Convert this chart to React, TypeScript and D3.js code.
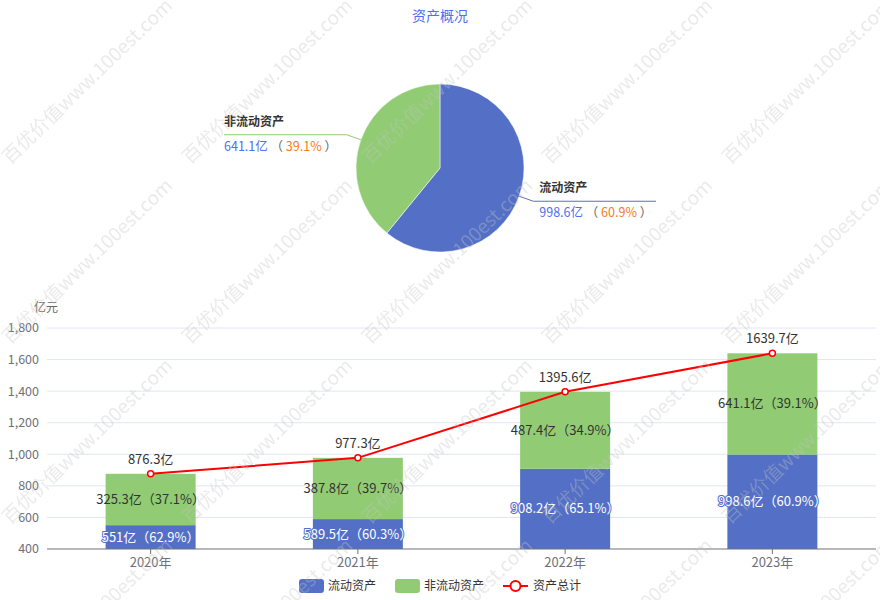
import * as d3 from "d3";

const years = ["2020年", "2021年", "2022年", "2023年"];
const currentAssets = [551, 589.5, 908.2, 998.6];
const nonCurrentAssets = [325.3, 387.8, 487.4, 641.1];
const totalAssets = [876.3, 977.3, 1395.6, 1639.7];
const currentPct = ["62.9%", "60.3%", "65.1%", "60.9%"];
const nonCurrentPct = ["37.1%", "39.7%", "34.9%", "39.1%"];
const yTicks = [400, 600, 800, 1000, 1200, 1400, 1600, 1800];

const pieNames = ["流动资产", "非流动资产"];
const pieValues = [998.6, 641.1];
const piePct = ["60.9%", "39.1%"];

const W = 880;
const H = 600;
const FONT = "'Noto Sans CJK SC', 'Microsoft YaHei', sans-serif";
const BLUE = "#5470c6";
const GREEN = "#91cc75";
const RED = "#ff0000";
const COLORS = [BLUE, GREEN];

const PLOT = { left: 47, right: 876, top: 328, bottom: 549 };
const PIE = { cx: 440, cy: 168, r: 84, edge: 216 };
const WATERMARK = "百优价值www.100est.com";

function fmt(v: number) {
  return `${v}亿`;
}

export default function App() {
  const x = d3.scaleBand<string>().domain(years).range([PLOT.left, PLOT.right]);
  const y = d3.scaleLinear().domain([400, 1800]).range([PLOT.bottom, PLOT.top]);
  const barW = 90;
  const yMin = y.domain()[0];

  const pie = d3.pie<number>().sort(null).value((d) => d)(pieValues);
  const arc = d3.arc<d3.PieArcDatum<number>>().innerRadius(0).outerRadius(PIE.r);

  const line = d3
    .line<number>()
    .x((_, i) => (x(years[i]) ?? 0) + x.bandwidth() / 2)
    .y((d) => y(d));

  // watermark grid, like the site's overlay
  const marks: [number, number][] = [];
  for (let r = 0; r < 4; r++) {
    for (let c = 0; c < 5; c++) marks.push([10 + c * 180, 165 + r * 180]);
  }

  return (
    <svg
      width={W}
      height={H}
      style={{ position: "absolute", left: 0, top: 0, display: "block" }}
      fontFamily={FONT}
    >
      <rect width={W} height={H} fill="#fff" />

      {/* title */}
      <text x={440} y={21} textAnchor="middle" fontSize={14} fill="#4d6ef5">
        资产概况
      </text>

      {/* pie */}
      <g transform={`translate(${PIE.cx},${PIE.cy})`}>
        {pie.map((p, i) => (
          <path key={i} d={arc(p) ?? ""} fill={COLORS[i]} stroke="#fff" strokeWidth={0.5} />
        ))}
      </g>
      {pie.map((p, i) => {
        const mid = (p.startAngle + p.endAngle) / 2;
        const dx = Math.sin(mid);
        const dy = -Math.cos(mid);
        const x0 = PIE.cx + dx * PIE.r;
        const y0 = PIE.cy + dy * PIE.r;
        const x1 = PIE.cx + dx * (PIE.r + 15);
        const y1 = PIE.cy + dy * (PIE.r + 15);
        const right = dx > 0;
        const x2 = right ? PIE.cx + PIE.edge : PIE.cx - PIE.edge;
        const tx = right ? x1 + 6 : x2;
        return (
          <g key={i}>
            <polyline
              points={`${x0},${y0} ${x1},${y1} ${x2},${y1}`}
              fill="none"
              stroke={COLORS[i]}
              strokeWidth={1}
            />
            <text x={tx} y={y1 - 9} fontSize={12} fontWeight="bold" fill="#333">
              {pieNames[i]}
            </text>
            <text x={tx} y={y1 + 16} fontSize={12.5} xmlSpace="preserve">
              <tspan fill="#4d6ef5">{fmt(pieValues[i])}</tspan>
              <tspan fill="#666">{" （ "}</tspan>
              <tspan fill="#f77a2a">{piePct[i]}</tspan>
              <tspan fill="#666">{" ）"}</tspan>
            </text>
          </g>
        );
      })}

      {/* grid + y axis */}
      <text x={46} y={312} textAnchor="middle" fontSize={12} fill="#666">
        亿元
      </text>
      {yTicks.map((t) => (
        <g key={t}>
          {t !== yMin && (
            <line x1={PLOT.left} x2={PLOT.right} y1={y(t)} y2={y(t)} stroke="#e0e6f1" strokeWidth={1} />
          )}
          <text x={39} y={y(t)} dy="0.35em" textAnchor="end" fontSize={12.5} fill="#6e7079">
            {d3.format(",")(t)}
          </text>
        </g>
      ))}

      {/* bars */}
      {years.map((yr, i) => {
        const cx = (x(yr) ?? 0) + x.bandwidth() / 2;
        const b0 = Math.max(0, yMin);
        const b1 = currentAssets[i];
        const g1 = b1 + nonCurrentAssets[i];
        return (
          <g key={yr}>
            <rect x={cx - barW / 2} y={y(b1)} width={barW} height={y(b0) - y(b1)} fill={BLUE} />
            <rect x={cx - barW / 2} y={y(g1)} width={barW} height={y(b1) - y(g1)} fill={GREEN} />
          </g>
        );
      })}

      {/* x axis */}
      <line x1={PLOT.left} x2={PLOT.right} y1={PLOT.bottom} y2={PLOT.bottom} stroke="#6e7079" />
      {years.map((yr) => {
        const cx = (x(yr) ?? 0) + x.bandwidth() / 2;
        return (
          <g key={yr}>
            <line x1={cx} x2={cx} y1={PLOT.bottom} y2={PLOT.bottom + 5} stroke="#6e7079" />
            <text x={cx} y={PLOT.bottom + 18} textAnchor="middle" fontSize={13} fill="#6e7079">
              {yr}
            </text>
          </g>
        );
      })}

      {/* bar labels */}
      {years.map((yr, i) => {
        const cx = (x(yr) ?? 0) + x.bandwidth() / 2;
        const b1 = currentAssets[i];
        const g1 = b1 + nonCurrentAssets[i];
        return (
          <g key={yr} fontSize={13}>
            <text
              x={cx}
              y={y((Math.max(0, yMin) + b1) / 2)}
              dy="0.35em"
              textAnchor="middle"
              fill="#fff"
              stroke={BLUE}
              strokeWidth={2}
              paintOrder="stroke"
            >
              {`${fmt(b1)}（${currentPct[i]}）`}
            </text>
            <text x={cx} y={y((b1 + g1) / 2)} dy="0.35em" textAnchor="middle" fill="#333">
              {`${fmt(nonCurrentAssets[i])}（${nonCurrentPct[i]}）`}
            </text>
          </g>
        );
      })}

      {/* total line */}
      <path d={line(totalAssets) ?? ""} fill="none" stroke={RED} strokeWidth={2} />
      {totalAssets.map((v, i) => {
        const cx = (x(years[i]) ?? 0) + x.bandwidth() / 2;
        return (
          <g key={i}>
            <circle cx={cx} cy={y(v)} r={3} fill="#fff" stroke={RED} strokeWidth={1.5} />
            <text x={cx} y={y(v) - 10} textAnchor="middle" fontSize={13} fill="#333">
              {fmt(v)}
            </text>
          </g>
        );
      })}

      {/* legend */}
      <g fontSize={12} fill="#333">
        <rect x={299} y={579} width={25} height={14} rx={3} fill={BLUE} />
        <text x={328} y={586} dy="0.35em">流动资产</text>
        <rect x={395} y={579} width={25} height={14} rx={3} fill={GREEN} />
        <text x={424} y={586} dy="0.35em">非流动资产</text>
        <line x1={503} x2={528} y1={586} y2={586} stroke={RED} strokeWidth={2} />
        <circle cx={515.5} cy={586} r={5} fill="#fff" stroke={RED} strokeWidth={2} />
        <text x={533} y={586} dy="0.35em">资产总计</text>
      </g>

      {/* watermark */}
      <g fontSize={19} fill="#c4c4c4" opacity={0.35} pointerEvents="none">
        {marks.map(([mx, my], i) => (
          <text key={i} x={mx} y={my} transform={`rotate(-44 ${mx} ${my})`}>
            {WATERMARK}
          </text>
        ))}
      </g>
    </svg>
  );
}
